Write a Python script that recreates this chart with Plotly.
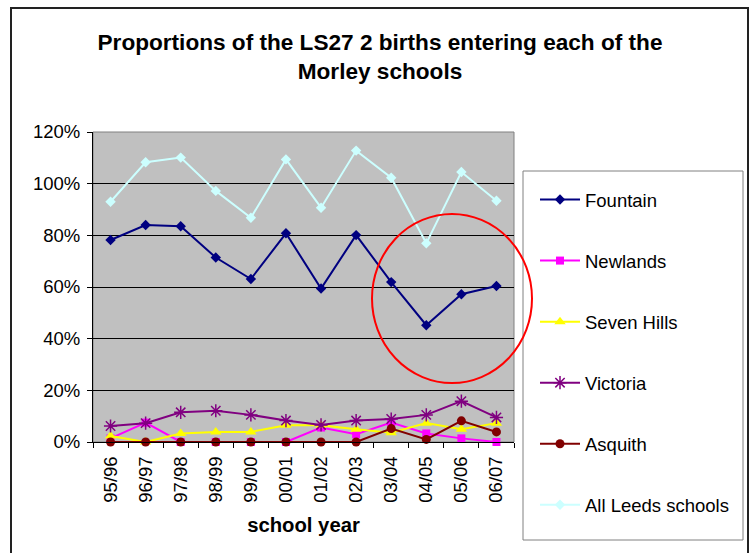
import plotly.graph_objects as go

years = ["95/96", "96/97", "97/98", "98/99", "99/00", "00/01",
         "01/02", "02/03", "03/04", "04/05", "05/06", "06/07"]

fountain = [0.782, 0.840, 0.835, 0.714, 0.631, 0.808, 0.594, 0.801, 0.619, 0.452, 0.572, 0.604]
newlands = [0.014, 0.075, 0.0, 0.0, 0.0, 0.0, 0.056, 0.030, 0.075, 0.033, 0.014, 0.0]
seven_hills = [0.023, 0.0, 0.033, 0.039, 0.039, 0.065, 0.065, 0.049, 0.036, 0.073, 0.049, 0.073]
victoria = [0.062, 0.073, 0.115, 0.121, 0.105, 0.083, 0.066, 0.083, 0.089, 0.105, 0.158, 0.095]
asquith = [0.0, 0.0, 0.0, 0.0, 0.0, 0.0, 0.0, 0.0, 0.052, 0.010, 0.082, 0.039]
all_leeds = [0.930, 1.083, 1.101, 0.972, 0.868, 1.094, 0.907, 1.128, 1.023, 0.769, 1.045, 0.934]

FONT = "Liberation Sans, Arial, sans-serif"

series = [
    ("Fountain", fountain, "#000080", "diamond", 8),
    ("Newlands", newlands, "#FF00FF", "square", 8),
    ("Seven Hills", seven_hills, "#FFFF00", "triangle-up", 10),
    ("Victoria", victoria, "#800080", "asterisk-open", 11),
    ("Asquith", asquith, "#800000", "circle", 9),
    ("All Leeds schools", all_leeds, "#CCFFFF", "diamond", 8),
]

fig = go.Figure()
for i, (name, vals, color, sym, size) in enumerate(series):
    marker = dict(symbol=sym, size=size, color=color, line=dict(color=color, width=1.5 if "open" in sym else 0))
    fig.add_trace(go.Scatter(
        x=years, y=vals, name=name, mode="lines+markers",
        line=dict(color=color, width=2), marker=marker,
        legendgroup=f"g{i}", cliponaxis=False,
    ))

W, H = 752, 553
L, R, T, B = 93, 514, 132, 442
pw, ph = R - L, B - T

def px(x):
    return (x - L) / pw

def py(y):
    return (B - y) / ph

shapes = [
    dict(type="rect", xref="paper", yref="paper", x0=0, x1=1, y0=0, y1=1,
         line=dict(color="#808080", width=1), layer="below"),
    dict(type="rect", xref="paper", yref="paper", x0=px(11), x1=px(748), y0=py(570), y1=py(8),
         line=dict(color="#222222", width=2)),
    dict(type="rect", xref="paper", yref="paper", x0=px(523), x1=px(743), y0=py(540), y1=py(171),
         line=dict(color="#808080", width=1)),
    dict(type="circle", xref="paper", yref="paper", x0=px(372), x1=px(532), y0=py(383), y1=py(214),
         line=dict(color="#FF0000", width=2)),
]

fig.update_layout(
    width=W, height=H, autosize=False,
    margin=dict(l=L, r=W - R, t=T, b=H - B, pad=0),
    paper_bgcolor="white", plot_bgcolor="#C0C0C0",
    font=dict(family=FONT, size=18.5, color="black"),
    title=dict(text="Proportions of the LS27 2 births entering each of the<br>Morley schools",
               font=dict(family=FONT, size=22.6, color="black", weight="bold"),
               x=380 / W, xref="container", xanchor="center",
               y=1 - 50 / H, yref="container", yanchor="top"),
    showlegend=True,
    legend=dict(x=px(535), y=py(181), xanchor="left", yanchor="top",
                bgcolor="rgba(0,0,0,0)", borderwidth=0, maxheight=520,
                font=dict(family=FONT, size=18.5, color="black"),
                tracegroupgap=34, itemwidth=40),
    shapes=shapes,
)

fig.update_xaxes(
    type="category", tickangle=-90, showgrid=False,
    showline=True, linecolor="black", linewidth=1,
    ticks="outside", ticklen=5, tickcolor="black", tickson="boundaries",
    tickfont=dict(family=FONT, size=18.5), ticklabelstandoff=6,
    title=dict(text="school year", font=dict(family=FONT, size=20.3, weight="bold"), standoff=16),
    range=[-0.5, 11.5],
)
fig.update_yaxes(
    range=[0, 1.2], dtick=0.2, tickformat=".0%",
    showgrid=True, gridcolor="black", gridwidth=1,
    showline=True, linecolor="black", linewidth=1,
    ticks="outside", ticklen=5, tickcolor="black", ticklabelstandoff=3,
    tickfont=dict(family=FONT, size=18.5), zeroline=False,
)

fig.write_html("out.html", config={"displayModeBar": False},
               post_script="document.body.style.margin='0px';")
